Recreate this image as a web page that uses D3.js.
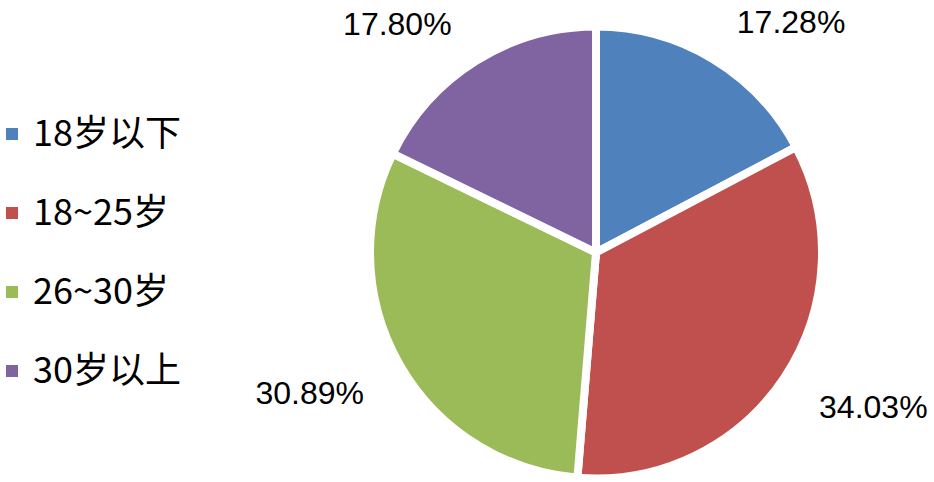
<!DOCTYPE html>
<html>
<head>
<meta charset="utf-8">
<script src="https://cdn.jsdelivr.net/npm/d3@7"></script>
<style>
  body { margin: 0; background: #fff; }
  svg { display: block; }
</style>
</head>
<body>
<div class="chart"></div>
<script>
// data
var categories = ["18岁以下", "18~25岁", "26~30岁", "30岁以上"];
var shares = [17.28, 34.03, 30.89, 17.80];
var colors = ["#4F81BD", "#C0504D", "#9BBB59", "#8064A2"];

var svg_w = 934;
var svg_h = 482;
var svg = d3.select("div.chart").append("svg")
  .attr("width", svg_w)
  .attr("height", svg_h);

var cx = 596, cy = 252.5;
var radius = 226;
var labelRadius = 259;
var labelPad = 7;
var capHeight = 23;

var pie = d3.pie().sort(null).value(function(d) { return d; });
var arcs = pie(shares);

var arc = d3.arc().innerRadius(0).outerRadius(radius);

var pieG = svg.append("g")
  .attr("transform", "translate(" + cx + "," + cy + ")");

// slices
pieG.selectAll("path")
  .data(arcs)
  .enter()
  .append("path")
  .attr("d", arc)
  .attr("fill", function(d, i) { return colors[i]; })
  .attr("stroke", "#fff")
  .attr("stroke-width", 8)
  .attr("stroke-linejoin", "miter");

// percentage labels: the text corner facing the pie sits on a ring at the slice mid angle
pieG.selectAll("text")
  .data(arcs)
  .enter()
  .append("text")
  .each(function(d) {
    var a = (d.startAngle + d.endAngle) / 2;
    var x = labelRadius * Math.sin(a);
    var y = -labelRadius * Math.cos(a);
    d3.select(this)
      .attr("x", x >= 0 ? x + labelPad : x - labelPad)
      .attr("y", y < 0 ? y + 2 : y + capHeight)
      .attr("text-anchor", x >= 0 ? "start" : "end");
  })
  .text(function(d) { return d.value.toFixed(2) + "%"; })
  .style("font-family", "'Liberation Sans', Arial, sans-serif")
  .style("font-size", "32px")
  .style("fill", "#000");

// legend
var rowY = d3.scaleLinear().domain([0, categories.length - 1]).range([146, 383]);

var legend = svg.append("g").attr("class", "legend");

var item = legend.selectAll("g")
  .data(categories)
  .enter()
  .append("g")
  .attr("transform", function(d, i) { return "translate(0," + rowY(i) + ")"; });

item.append("rect")
  .attr("x", 6)
  .attr("y", -18)
  .attr("width", 12)
  .attr("height", 12)
  .attr("fill", function(d, i) { return colors[i]; });

item.append("text")
  .attr("x", 33)
  .attr("y", 0)
  .text(function(d) { return d; })
  .style("font-family", "'Noto Sans CJK SC', sans-serif")
  .style("font-size", "36px")
  .style("fill", "#000");
</script>
</body>
</html>
